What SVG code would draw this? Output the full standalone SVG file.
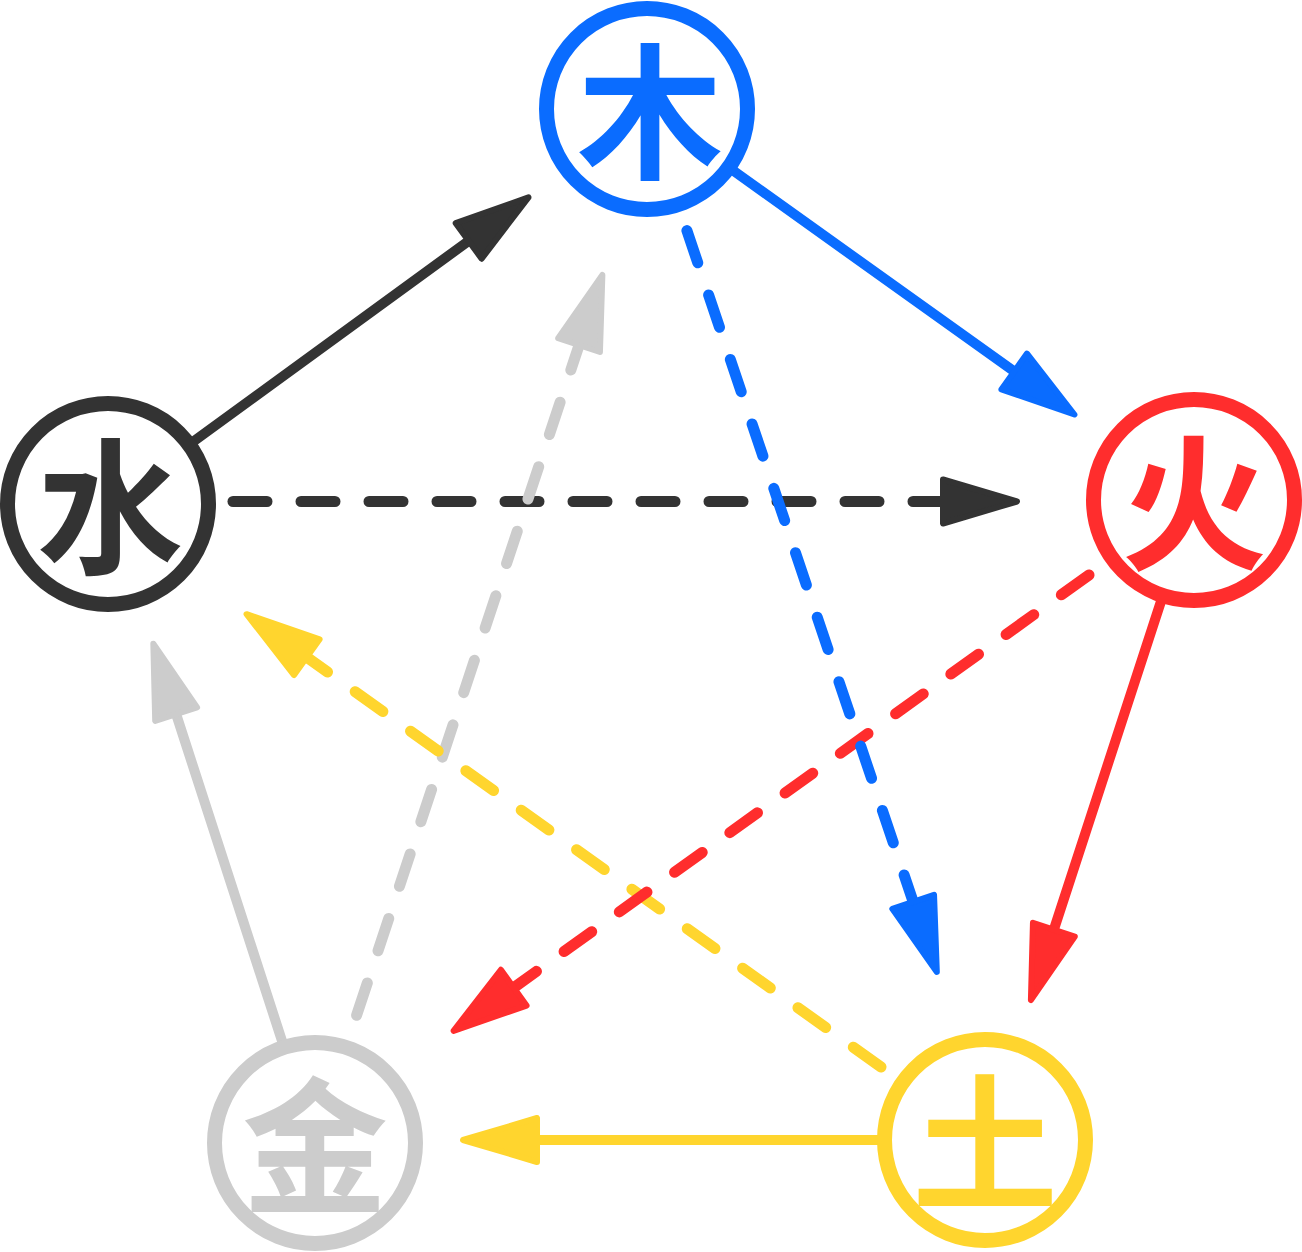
<svg xmlns="http://www.w3.org/2000/svg" width="1302" height="1252" viewBox="0 0 1302 1252">
<defs>
<style>
.ln{fill:none;stroke-width:10;stroke-linecap:round}
.dash{stroke-width:11;stroke-dasharray:34 34}
.node circle{fill:#fff;stroke-width:15}
.node text{font-family:"Noto Sans CJK SC","Noto Sans CJK JP",sans-serif;font-weight:700;font-size:146px;text-anchor:middle;dominant-baseline:central}
.k{stroke:#333333}.b{stroke:#0A6CFF}.r{stroke:#FF2D2D}.y{stroke:#FFD52E}.g{stroke:#CCCCCC}
</style>
<marker id="ak" viewBox="-5 -30 90 60" markerWidth="90" markerHeight="60" refX="16" refY="0" orient="auto" markerUnits="userSpaceOnUse" overflow="visible"><path d="M0,-22 L74,0 L0,22 Z" fill="#333333" stroke="#333333" stroke-width="6" stroke-linejoin="round"/></marker>
<marker id="ab" viewBox="-5 -30 90 60" markerWidth="90" markerHeight="60" refX="16" refY="0" orient="auto" markerUnits="userSpaceOnUse" overflow="visible"><path d="M0,-22 L74,0 L0,22 Z" fill="#0A6CFF" stroke="#0A6CFF" stroke-width="6" stroke-linejoin="round"/></marker>
<marker id="ar" viewBox="-5 -30 90 60" markerWidth="90" markerHeight="60" refX="16" refY="0" orient="auto" markerUnits="userSpaceOnUse" overflow="visible"><path d="M0,-22 L74,0 L0,22 Z" fill="#FF2D2D" stroke="#FF2D2D" stroke-width="6" stroke-linejoin="round"/></marker>
<marker id="ay" viewBox="-5 -30 90 60" markerWidth="90" markerHeight="60" refX="16" refY="0" orient="auto" markerUnits="userSpaceOnUse" overflow="visible"><path d="M0,-22 L74,0 L0,22 Z" fill="#FFD52E" stroke="#FFD52E" stroke-width="6" stroke-linejoin="round"/></marker>
<marker id="ag" viewBox="-5 -30 90 60" markerWidth="90" markerHeight="60" refX="16" refY="0" orient="auto" markerUnits="userSpaceOnUse" overflow="visible"><path d="M0,-22 L74,0 L0,22 Z" fill="#CCCCCC" stroke="#CCCCCC" stroke-width="6" stroke-linejoin="round"/></marker>
</defs>
<rect width="1302" height="1252" fill="#fff"/>
<g id="connectors">
<path class="ln k" d="M192,442.5 L481.6,231.5" marker-end="url(#ak)"/>
<path class="ln b" d="M731.7,169.5 L1027.2,380.8" marker-end="url(#ab)"/>
<path class="ln r" d="M1161.8,598.9 L1048.9,944.9" marker-end="url(#ar)"/>
<path class="ln y" d="M881,1140 L521,1140" marker-end="url(#ay)"/>
<path class="ln g" d="M283,1044 L171.2,698.9" marker-end="url(#ag)"/>
<path class="ln dash k" d="M233,501.5 L959,501.5" marker-end="url(#ak)"/>
<path class="ln dash g" d="M356.6,1015.3 L584.1,329.9" marker-end="url(#ag)"/>
<path class="ln dash y" d="M881,1067 L293.8,647.9" marker-end="url(#ay)"/>
<path class="ln dash r" d="M1089,575 L500.7,997" marker-end="url(#ar)"/>
<path class="ln dash b" d="M686.9,230.6 L918.3,917" marker-end="url(#ab)"/>
</g>
<g id="node-mu" class="node"><circle cx="647" cy="109" r="100.5" stroke="#0A6CFF"/><text x="650" y="103" fill="#0A6CFF">木</text></g>
<g id="node-huo" class="node"><circle cx="1194" cy="500" r="100.5" stroke="#FF2D2D"/><text x="1194" y="494" fill="#FF2D2D">火</text></g>
<g id="node-tu" class="node"><circle cx="985" cy="1140" r="100.5" stroke="#FFD52E"/><text x="985" y="1134" fill="#FFD52E">土</text></g>
<g id="node-jin" class="node"><circle cx="315" cy="1143" r="100.5" stroke="#CCCCCC"/><text x="315" y="1137" fill="#CCCCCC">金</text></g>
<g id="node-shui" class="node"><circle cx="108" cy="504" r="100.5" stroke="#333333"/><text x="110" y="498" fill="#333333">水</text></g>
</svg>
